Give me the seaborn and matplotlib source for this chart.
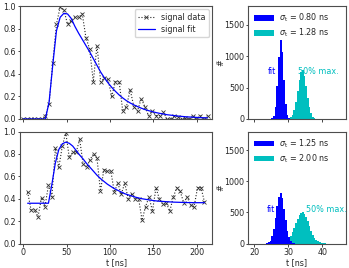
import matplotlib
matplotlib.use("Agg")
import numpy as np
import pandas as pd
import matplotlib.pyplot as plt
import seaborn as sns

# ---------------- data ----------------
t_top = [0, 4.25, 8.5, 12.75, 17, 21.25, 25.5, 29.75, 34, 38.25, 42.5, 46.75, 51,
         55.25, 59.5, 63.75, 68, 72.25, 76.5, 80.75, 85, 89.25, 93.5, 97.75, 102,
         106.25, 110.5, 114.75, 119, 123.25, 127.5, 131.75, 136, 140.25, 144.5,
         148.75, 153, 157.25, 161.5, 165.75, 170, 174.25, 178.5, 182.75, 187,
         191.25, 195.5, 199.75, 204, 208.25, 212.5]
data_top = [0, 0, 0, 0, 0, 0, 0.03, 0.13, 0.50, 0.84, 0.99, 0.965, 0.84, 0.87, 0.90,
            0.90, 0.93, 0.72, 0.62, 0.33, 0.65, 0.33, 0.36, 0.35, 0.20, 0.33, 0.33,
            0.07, 0.11, 0.26, 0.11, 0.07, 0.18, 0.11, 0.03, 0.07, 0.03, 0.03, 0.06,
            0.0, 0.0, 0.03, 0.02, 0.0, 0.01, 0.0, 0.03, 0.0, 0.03, 0.0, 0.03]
fit_top = [0, 0, 0, 0, 0, 0, 0, 0.15, 0.48, 0.78, 0.90, 0.935, 0.93, 0.89, 0.82,
           0.76, 0.705, 0.65, 0.595, 0.535, 0.475, 0.415, 0.365, 0.32, 0.28, 0.245,
           0.213, 0.186, 0.162, 0.142, 0.125, 0.11, 0.096, 0.084, 0.074, 0.065,
           0.057, 0.05, 0.044, 0.038, 0.034, 0.03, 0.026, 0.023, 0.02, 0.018,
           0.016, 0.014, 0.012, 0.011, 0.01]

t_bot = [5, 9, 13, 17, 21, 25, 29, 33, 37, 41, 45, 49, 53, 57, 61, 65, 69, 73, 77,
         81, 85, 89, 93, 97, 101, 105, 109, 113, 117, 121, 125, 129, 133, 137, 141,
         145, 149, 153, 157, 161, 165, 169, 173, 177, 181, 185, 189, 193, 197, 201,
         205, 209]
data_bot = [0.46, 0.30, 0.30, 0.24, 0.41, 0.33, 0.52, 0.42, 0.85, 0.68, 0.87, 0.99,
            0.77, 0.815, 0.815, 0.93, 0.71, 0.68, 0.75, 0.80, 0.76, 0.47, 0.66,
            0.645, 0.645, 0.46, 0.54, 0.44, 0.54, 0.40, 0.44, 0.40, 0.40, 0.21,
            0.33, 0.415, 0.29, 0.495, 0.40, 0.35, 0.36, 0.29, 0.415, 0.50, 0.465,
            0.365, 0.415, 0.345, 0.33, 0.50, 0.50, 0.37]
fit_bot = [0.36, 0.36, 0.36, 0.36, 0.36, 0.36, 0.36, 0.53, 0.72, 0.84, 0.89, 0.905,
           0.895, 0.87, 0.83, 0.79, 0.755, 0.715, 0.68, 0.645, 0.61, 0.58, 0.555,
           0.53, 0.51, 0.49, 0.475, 0.46, 0.445, 0.435, 0.425, 0.415, 0.407, 0.40,
           0.395, 0.39, 0.385, 0.381, 0.378, 0.376, 0.374, 0.372, 0.37, 0.369,
           0.368, 0.367, 0.366, 0.366, 0.365, 0.365, 0.365, 0.365]

# histogram bins (0.5 ns wide), given by left edge of first bin + bar heights
bin_w = 0.5
fit_top_start = 24.5
fit_top_counts = [1, 8, 47, 191, 528, 987, 1260, 1067, 618, 242, 64, 11, 1]
max_top_start = 30.0
max_top_counts = [8, 25, 65, 145, 275, 447, 626, 751, 780, 685, 521, 340, 190, 91,
                  38, 13, 4, 1]
fit_bot_start = 23.0
fit_bot_counts = [1, 5, 18, 49, 117, 237, 408, 599, 750, 815, 726, 562, 371, 208,
                  100, 41, 14, 4, 1]
max_bot_start = 27.0
max_bot_counts = [1, 3, 7, 14, 26, 47, 78, 123, 181, 251, 326, 398, 457, 492, 502,
                  474, 424, 356, 281, 208, 145, 95, 58, 34, 18, 9, 4, 2, 1]

sig_labels_top = [r"$\sigma_\mathrm{t}$ = 0.80 ns", r"$\sigma_\mathrm{t}$ = 1.28 ns"]
sig_labels_bot = [r"$\sigma_\mathrm{t}$ = 1.25 ns", r"$\sigma_\mathrm{t}$ = 2.00 ns"]

BLUE = "#0000ff"
CYAN = "#00bfbf"
FS = 5.8

# ---------------- style ----------------
sns.set_style("ticks")
plt.rcParams.update({
    "font.family": ["DejaVu Sans"],
    "font.size": FS,
    "axes.labelsize": FS,
    "xtick.labelsize": FS,
    "ytick.labelsize": FS,
    "legend.fontsize": FS,
    "xtick.major.size": 1.8,
    "ytick.major.size": 1.8,
    "xtick.major.pad": 1.5,
    "ytick.major.pad": 1.2,
    "xtick.major.width": 0.6,
    "ytick.major.width": 0.6,
    "axes.linewidth": 0.8,
    "axes.edgecolor": "0.3",
})

W, H = 349, 268
fig = plt.figure(figsize=(W / 100, H / 100), dpi=100)


def rect(x0, y0, x1, y1):
    return [x0 / W, 1 - y1 / H, (x1 - x0) / W, (y1 - y0) / H]


ax_tl = fig.add_axes(rect(20, 6, 212.3, 119))
ax_bl = fig.add_axes(rect(20, 131.5, 212.3, 243.6), sharex=ax_tl)
ax_tr = fig.add_axes(rect(248.3, 6, 345.7, 119))
ax_br = fig.add_axes(rect(248.3, 131.5, 345.7, 243.6), sharex=ax_tr, sharey=ax_tr)


def signal(ax, t, d, f, legend):
    sns.lineplot(x=t, y=d, ax=ax, sort=False, color="0.15", linestyle=":", lw=0.8,
                 marker="x", markersize=2.6, markeredgewidth=0.6, markeredgecolor="0.2",
                 label="signal data" if legend else None)
    sns.lineplot(x=t, y=f, ax=ax, sort=False, color=BLUE, lw=0.9,
                 label="signal fit" if legend else None)
    ax.set_ylim(0, 1.0)
    ax.set_yticks([0, 0.2, 0.4, 0.6, 0.8, 1.0])
    ax.set_ylabel("")


signal(ax_tl, t_top, data_top, fit_top, True)
signal(ax_bl, t_bot, data_bot, fit_bot, False)
ax_tl.set_xlim(-3.8, 218)
ax_tl.set_xticks([0, 50, 100, 150, 200])
ax_tl.tick_params(labelbottom=False)
ax_tl.set_xlabel("")
ax_bl.set_xlabel("t [ns]", labelpad=1)
ax_tl.legend(loc="upper right", fontsize=FS, borderaxespad=0.4, handlelength=2.0,
             labelspacing=0.35, borderpad=0.45)
if ax_bl.get_legend() is not None:
    ax_bl.get_legend().remove()


def hist(ax, start, counts, color, label, z):
    edges = [start + bin_w * i for i in range(len(counts) + 1)]
    centers = [start + bin_w * (i + 0.5) for i in range(len(counts))]
    sns.histplot(x=centers, weights=counts, bins=edges, ax=ax, color=color,
                 alpha=1.0, linewidth=0, edgecolor=color, label=label, zorder=z)


hist(ax_tr, fit_top_start, fit_top_counts, BLUE, sig_labels_top[0], 3)
hist(ax_tr, max_top_start, max_top_counts, CYAN, sig_labels_top[1], 2)
hist(ax_br, fit_bot_start, fit_bot_counts, BLUE, sig_labels_bot[0], 3)
hist(ax_br, max_bot_start, max_bot_counts, CYAN, sig_labels_bot[1], 2)

for ax in (ax_tr, ax_br):
    ax.set_xlim(18.2, 46.9)
    ax.set_ylim(0, 1800)
    ax.set_yticks([0, 500, 1000, 1500])
    ax.set_xticks([20, 30, 40])
    ax.set_ylabel("#")
    ax.yaxis.set_label_coords(-0.235, 0.5)
    ax.legend(loc="upper left", frameon=False, fontsize=FS, borderaxespad=0.3,
              handlelength=2.5, labelspacing=0.35, handletextpad=0.6)
ax_tr.tick_params(labelbottom=False)
ax_tr.set_xlabel("")
ax_br.set_xlabel("t [ns]", labelpad=1)

ax_tr.text(26.4, 755, "fit", color=BLUE, ha="right", va="center", fontsize=FS)
ax_tr.text(32.8, 755, "50% max.", color=CYAN, ha="left", va="center", fontsize=FS)
ax_br.text(26.0, 543, "fit", color=BLUE, ha="right", va="center", fontsize=FS)
ax_br.text(35.1, 543, "50% max.", color=CYAN, ha="left", va="center", fontsize=FS)

fig.savefig("out.png", dpi=100)
